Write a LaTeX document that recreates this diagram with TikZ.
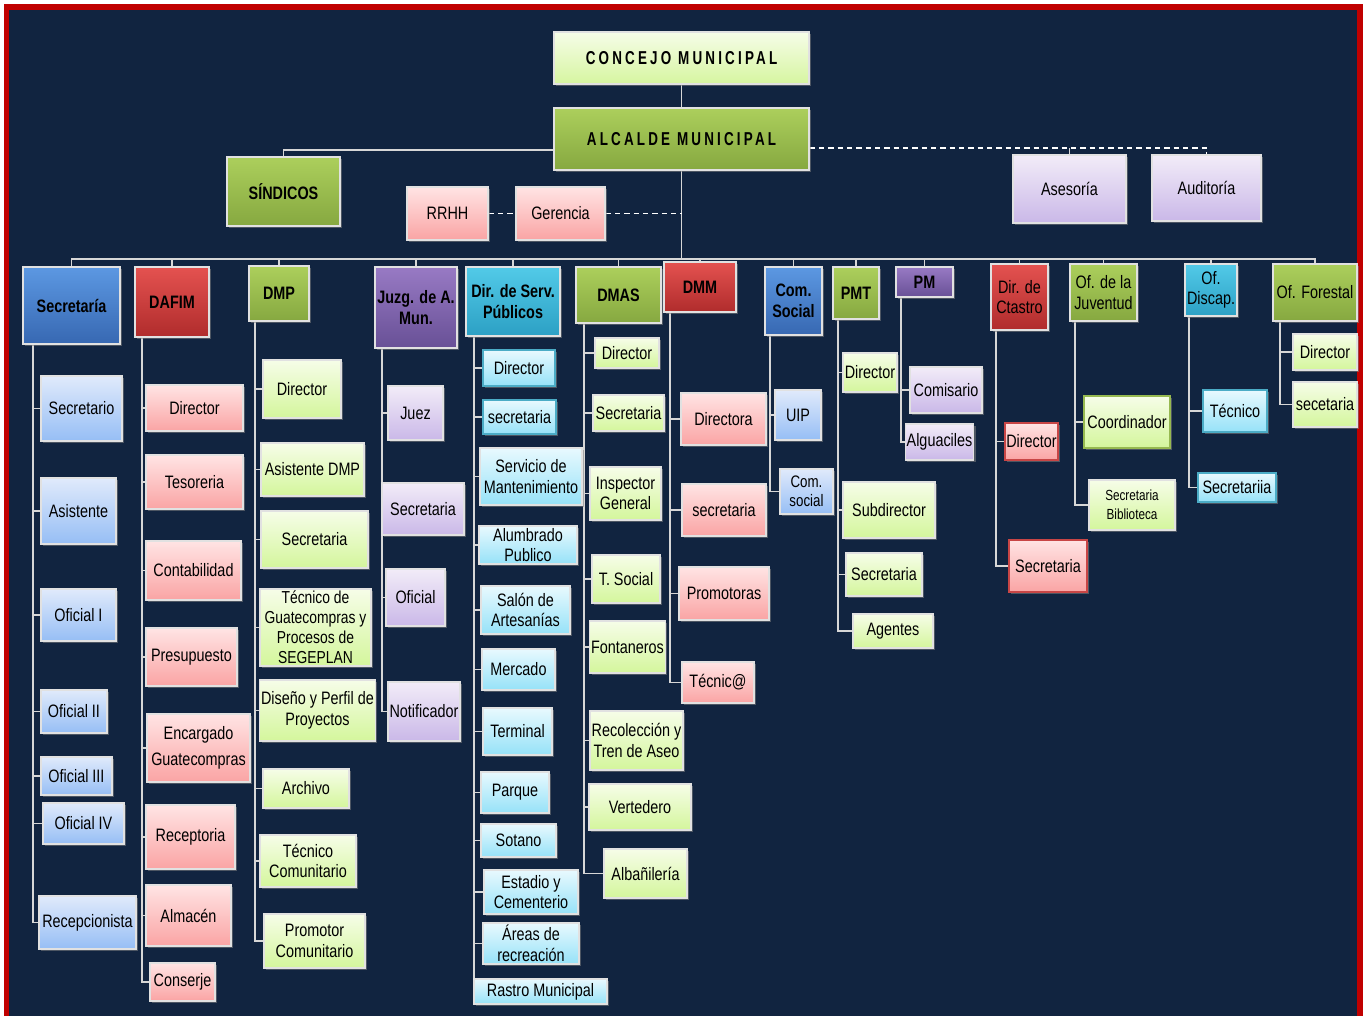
\documentclass[tikz,border=0pt]{standalone}
\usepackage{fontspec}
\setmainfont{Liberation Sans}[FakeStretch=0.8]
\newfontfamily\spaced{Liberation Sans}[FakeStretch=0.72,LetterSpace=17]
\usetikzlibrary{shadows}
\pgfdeclarelayer{back}
\pgfdeclarelayer{bg}
\pgfsetlayers{back,bg,main}
\definecolor{navy}{RGB}{17,36,64}
\definecolor{frame}{RGB}{192,0,0}
\definecolor{boxline}{RGB}{225,225,225}
\definecolor{connc}{RGB}{215,215,215}
\newcommand\myfs{\fontsize{13.5}{15.5}\selectfont}
\newcommand\bx[7]{\node[#2, minimum width={(#5-#3)*0.75pt}, minimum height={(#6-#4)*0.75pt}] (#1) at ({(#3+#5)/2},{(#4+#6)/2}) {#7};}
\newcommand\kids[3]{\foreach \c in {#3}{\draw[conn] (#1.south west) ++(#2,0) |- (\c.west);}}
\tikzset{
  box/.style={draw=boxline, line width=1pt, inner sep=1pt, align=center, font=\myfs, text=black,
    drop shadow={opacity=0.55, shadow xshift=1.5pt, shadow yshift=-1.5pt}},
  Lg/.style={box, font=\myfs\bfseries, top color={rgb,255:red,172;green,207;blue,92}, bottom color={rgb,255:red,134;green,168;blue,64}},
  Lr/.style={box, font=\myfs\bfseries, top color={rgb,255:red,228;green,82;blue,80}, bottom color={rgb,255:red,176;green,44;blue,44}},
  Lb/.style={box, font=\myfs\bfseries, top color={rgb,255:red,92;green,152;blue,226}, bottom color={rgb,255:red,55;green,104;blue,178}},
  Lpu/.style={box, font=\myfs\bfseries, top color={rgb,255:red,152;green,122;blue,196}, bottom color={rgb,255:red,104;green,80;blue,150}},
  Lc/.style={box, font=\myfs\bfseries, top color={rgb,255:red,82;green,202;blue,232}, bottom color={rgb,255:red,44;green,160;blue,196}},
  top1/.style={box, top color={rgb,255:red,246;green,253;blue,232}, bottom color={rgb,255:red,214;green,245;blue,160}},
  cg/.style={box, top color={rgb,255:red,246;green,253;blue,232}, bottom color={rgb,255:red,212;green,246;blue,156}},
  cp/.style={box, top color={rgb,255:red,255;green,228;blue,228}, bottom color={rgb,255:red,250;green,164;blue,164}},
  cb/.style={box, top color={rgb,255:red,224;green,234;blue,251}, bottom color={rgb,255:red,150;green,190;blue,245}},
  cl/.style={box, top color={rgb,255:red,242;green,236;blue,248}, bottom color={rgb,255:red,202;green,184;blue,232}},
  cc/.style={box, top color={rgb,255:red,232;green,249;blue,254}, bottom color={rgb,255:red,150;green,226;blue,248}},
  conn/.style={draw=connc, line width=1.3pt},
  dconn/.style={draw=white, line width=1.3pt, dash pattern=on 4pt off 3pt},
}
\begin{document}
\begin{tikzpicture}[x=0.75pt,y=-0.75pt]
\useasboundingbox (0,0) rectangle (1363,1016);
\begin{pgfonlayer}{back}
\fill[white] (0,0) rectangle (1363,1016);
\fill[frame] (4,4) rectangle (1363,1016);
\fill[navy] (9,10) rectangle (1357,1016);
\end{pgfonlayer}

% top
\bx{con}{top1, font=\spaced\fontsize{14}{16}\selectfont\bfseries}{554}{32}{809}{84}{CONCEJO MUNICIPAL}
\bx{alc}{Lg, font=\spaced\fontsize{14}{16}\selectfont\bfseries}{554}{108}{809}{170}{ALCALDE MUNICIPAL}
\bx{sin}{Lg}{227}{157}{340}{226}{SÍNDICOS}
\bx{rrhh}{cp, font=\myfs}{407}{187}{488}{240}{RRHH}
\bx{ger}{cp, font=\myfs}{516}{187}{605}{240}{Gerencia}
\bx{ase}{cl, font=\myfs}{1013}{155}{1126}{223}{Asesoría}
\bx{aud}{cl, font=\myfs}{1152}{155}{1261}{221}{Auditoría}

% level 1
\bx{sec}{Lb}{23}{267}{120}{344}{Secretaría}
\bx{daf}{Lr}{135}{267}{209}{337}{DAFIM}
\bx{dmp}{Lg}{249}{266}{309}{321}{DMP}
\bx{juz}{Lpu}{375}{267}{457}{348}{Juzg. de A.\\Mun.}
\bx{dsp}{Lc}{466}{267}{560}{336}{Dir. de Serv.\\Públicos}
\bx{dmas}{Lg}{576}{267}{661}{323}{DMAS}
\bx{dmm}{Lr}{664}{262}{736}{312}{DMM}
\bx{com}{Lb}{765}{267}{822}{335}{Com.\\Social}
\bx{pmt}{Lg}{833}{267}{879}{319}{PMT}
\bx{pm}{Lpu}{896}{267}{953}{297}{PM}
\bx{cat}{Lr, font=\myfs}{991}{264}{1048}{330}{Dir. de\\Ctastro}
\bx{juv}{Lg, font=\myfs}{1070}{264}{1137}{321}{Of. de la\\Juventud}
\bx{dis}{Lc, font=\myfs}{1185}{264}{1237}{316}{Of.\\Discap.}
\bx{for}{Lg, font=\myfs}{1273}{264}{1357}{321}{Of. Forestal}

% Secretaria
\bx{s1}{cb}{41}{376}{122}{441}{Secretario}
\bx{s2}{cb}{41}{478}{116}{544}{Asistente}
\bx{s3}{cb}{41}{589}{116}{641}{Oficial I}
\bx{s4}{cb}{41}{690}{107}{733}{Oficial II}
\bx{s5}{cb}{41}{757}{112}{795}{Oficial III}
\bx{s6}{cb}{43}{803}{124}{844}{Oficial IV}
\bx{s7}{cb}{39}{896}{136}{949}{Recepcionista}
% DAFIM
\bx{d1}{cp}{146}{385}{243}{431}{Director}
\bx{d2}{cp}{146}{455}{243}{509}{Tesoreria}
\bx{d3}{cp}{146}{541}{241}{600}{Contabilidad}
\bx{d4}{cp}{146}{628}{237}{686}{Presupuesto}
\bx{d5}{cp}{147}{714}{250}{782}{Encargado\\[4.5pt]Guatecompras}
\bx{d6}{cp}{146}{805}{235}{869}{Receptoria}
\bx{d7}{cp}{146}{885}{231}{946}{Almacén}
\bx{d8}{cp}{150}{963}{215}{1001}{Conserje}
% DMP
\bx{m1}{cg}{263}{360}{341}{418}{Director}
\bx{m2}{cg}{261}{443}{364}{496}{Asistente DMP}
\bx{m3}{cg}{261}{511}{368}{568}{Secretaria}
\bx{m4}{cg, font=\fontsize{13}{15}\selectfont}{260}{589}{371}{666}{Técnico de\\Guatecompras y\\Procesos de\\SEGEPLAN}
\bx{m5}{cg}{260}{680}{375}{741}{Diseño y Perfil de\\Proyectos}
\bx{m6}{cg}{263}{769}{349}{808}{Archivo}
\bx{m7}{cg}{260}{835}{356}{887}{Técnico\\Comunitario}
\bx{m8}{cg}{264}{914}{365}{968}{Promotor\\Comunitario}
% Juzgado
\bx{j1}{cl}{388}{386}{443}{440}{Juez}
\bx{j2}{cl}{382}{483}{464}{535}{Secretaria}
\bx{j3}{cl}{386}{569}{445}{626}{Oficial}
\bx{j4}{cl}{388}{682}{460}{741}{Notificador}
% Serv. Publicos
\bx{p1}{cc, draw={rgb,255:red,75;green,172;blue,198}}{483}{350}{555}{386}{Director}
\bx{p2}{cc, draw={rgb,255:red,75;green,172;blue,198}}{483}{400}{556}{434}{secretaria}
\bx{p3}{cc}{480}{448}{582}{505}{Servicio de\\Mantenimiento}
\bx{p4}{cc}{479}{526}{577}{564}{Alumbrado\\Publico}
\bx{p5}{cc}{481}{586}{570}{634}{Salón de\\Artesanías}
\bx{p6}{cc}{482}{649}{555}{690}{Mercado}
\bx{p7}{cc}{483}{708}{552}{755}{Terminal}
\bx{p8}{cc}{481}{772}{549}{813}{Parque}
\bx{p9}{cc}{481}{824}{556}{857}{Sotano}
\bx{p10}{cc}{484}{870}{578}{914}{Estadio y\\Cementerio}
\bx{p11}{cc}{483}{923}{579}{964}{Áreas de\\recreación}
\bx{p12}{cc}{474}{979}{607}{1004}{Rastro Municipal}
% DMAS
\bx{a1}{cg}{595}{338}{659}{368}{Director}
\bx{a2}{cg}{593}{395}{664}{431}{Secretaria}
\bx{a3}{cg}{590}{467}{661}{520}{Inspector\\General}
\bx{a4}{cg}{592}{555}{660}{603}{T. Social}
\bx{a5}{cg}{590}{621}{665}{673}{Fontaneros}
\bx{a6}{cg}{590}{711}{683}{770}{Recolección y\\Tren de Aseo}
\bx{a7}{cg}{589}{784}{691}{830}{Vertedero}
\bx{a8}{cg}{604}{849}{687}{898}{Albañilería}
% DMM
\bx{r1}{cp}{681}{393}{766}{445}{Directora}
\bx{r2}{cp}{682}{484}{766}{536}{secretaria}
\bx{r3}{cp}{679}{567}{769}{620}{Promotoras}
\bx{r4}{cp}{682}{662}{754}{703}{Técnic@}
% Com Social
\bx{c1}{cb}{775}{390}{821}{440}{UIP}
\bx{c2}{cb, font=\fontsize{12.5}{14.5}\selectfont}{780}{469}{833}{514}{Com.\\social}
% PMT
\bx{t1}{cg}{843}{353}{897}{392}{Director}
\bx{t2}{cg}{843}{482}{935}{538}{Subdirector}
\bx{t3}{cg}{846}{553}{922}{596}{Secretaria}
\bx{t4}{cg}{853}{614}{933}{648}{Agentes}
% PM
\bx{q1}{cl}{910}{367}{982}{413}{Comisario}
\bx{q2}{cl}{906}{424}{973}{460}{Alguaciles}
% Catastro
\bx{k1}{cp, draw={rgb,255:red,200;green,70;blue,70}}{1005}{423}{1058}{460}{Director}
\bx{k2}{cp, draw={rgb,255:red,200;green,70;blue,70}}{1009}{540}{1087}{592}{Secretaria}
% Juventud
\bx{v1}{cg, draw={rgb,255:red,150;green,185;blue,80}}{1084}{396}{1170}{448}{Coordinador}
\bx{v2}{cg, font=\fontsize{11}{14.5}\selectfont}{1089}{480}{1175}{530}{Secretaria\\Biblioteca}
% Discapacidad
\bx{i1}{cc, draw={rgb,255:red,75;green,172;blue,198}}{1203}{390}{1267}{432}{Técnico}
\bx{i2}{cc, draw={rgb,255:red,75;green,172;blue,198}}{1198}{473}{1276}{502}{Secretariia}
% Forestal
\bx{f1}{cg}{1293}{334}{1357}{370}{Director}
\bx{f2}{cg}{1293}{382}{1357}{427}{secetaria}

\begin{pgfonlayer}{bg}
\coordinate (busL) at (0,259);
\draw[conn] (con.south) -- (alc.north);
\draw[conn] ([yshift=-8.25pt]alc.west) -| (sin.north);
\draw[conn] (alc.south) -- (alc.south |- busL);
\draw[dconn] (rrhh.east) -- (ger.west);
\draw[dconn] (ger.east) -- (ger.east -| alc.south);
\coordinate (dl) at ([yshift=-6.75pt]alc.east);
\draw[dconn] (dl) -| (aud.north);
\draw[conn] (ase.north) -- (ase.north |- dl);
\draw[conn] (sec.north) |- (for.north |- busL) -- (for.north);
\foreach \n in {daf,dmp,juz,dsp,dmas,dmm,com,pmt,pm,cat,juv,dis}{\draw[conn] (\n.north) -- (\n.north |- busL);}
\kids{sec}{11}{s1,s2,s3,s4,s5,s6,s7}
\kids{daf}{8}{d1,d2,d3,d4,d5,d6,d7,d8}
\kids{dmp}{7}{m1,m2,m3,m4,m5,m6,m7,m8}
\kids{juz}{8}{j1,j2,j3,j4}
\kids{dsp}{9}{p1,p2,p3,p4,p5,p6,p7,p8,p9,p10,p11,p12}
\kids{dmas}{9}{a1,a2,a3,a4,a5,a6,a7,a8}
\kids{dmm}{7}{r1,r2,r3,r4}
\kids{com}{6}{c1,c2}
\kids{pmt}{6}{t1,t2,t3,t4}
\kids{pm}{6}{q1,q2}
\kids{cat}{6}{k1,k2}
\kids{juv}{6}{v1,v2}
\kids{dis}{5}{i1,i2}
\kids{for}{8}{f1,f2}
\end{pgfonlayer}
\end{tikzpicture}
\end{document}
